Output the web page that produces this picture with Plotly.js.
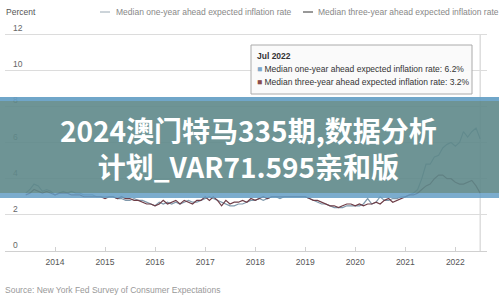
<!DOCTYPE html>
<html>
<head>
<meta charset="utf-8">
<script src="https://cdn.plot.ly/plotly-3.0.1.min.js"></script>
<style>
html,body{margin:0;padding:0;background:#fff;}
#chart{width:499px;height:296px;}
</style>
</head>
<body>
<div id="chart"></div>
<script>
// Monthly data, Jun 2013 .. Jul 2022
const startYear = 2013, startMonth = 6;
const oneYear = [
  3.2,3.4,3.7,3.6,3.3,3.4,3.3,                      // 2013 Jun-Dec
  3.1,3.2,3.3,3.2,3.3,3.2,3.2,3.1,3.1,3.1,3.0,3.0,  // 2014
  3.0,3.0,3.0,2.9,2.9,2.8,2.8,2.9,2.8,2.8,2.7,2.6,  // 2015
  2.5,2.7,2.6,2.7,2.6,2.7,2.6,2.7,2.8,2.7,2.7,2.8,  // 2016
  2.9,3.0,2.9,2.8,2.7,2.6,2.5,2.5,2.6,2.6,2.7,2.8,  // 2017
  2.8,2.9,2.8,2.9,3.0,3.0,2.9,3.0,3.0,3.0,3.0,3.0,  // 2018
  3.0,2.9,2.8,2.7,2.6,2.6,2.5,2.4,2.4,2.4,2.5,2.5,  // 2019
  2.5,2.5,2.6,2.9,2.6,2.7,3.0,2.8,2.8,2.9,2.9,3.0,  // 2020
  3.0,3.1,3.2,3.4,4.0,4.8,4.8,5.2,5.3,5.7,5.9,6.0,  // 2021
  5.8,6.0,6.6,6.3,6.6,6.8,6.2                       // 2022 Jan-Jul
];
const threeYear = [
  3.1,3.2,3.4,3.3,3.2,3.3,3.2,
  3.1,3.2,3.2,3.2,3.1,3.1,3.1,3.0,3.0,3.0,3.0,3.0,
  2.9,3.0,3.0,2.9,3.0,2.9,2.9,2.8,2.8,2.7,2.6,2.6,
  2.5,2.6,2.8,2.6,2.7,2.8,2.6,2.8,2.7,2.6,2.8,2.8,
  3.0,2.8,3.0,2.8,2.5,2.8,2.6,2.7,2.7,2.8,2.7,2.9,
  2.8,2.9,3.0,2.9,3.0,3.0,3.0,3.0,3.0,3.0,3.0,3.0,
  3.0,2.9,2.8,2.8,2.7,2.6,2.5,2.5,2.4,2.5,2.6,2.6,
  2.5,2.6,2.5,2.6,2.6,2.7,2.6,2.8,2.9,2.7,2.8,2.9,
  3.0,3.1,3.1,3.2,3.4,3.6,3.7,4.0,4.2,4.2,4.0,4.0,
  3.8,3.7,3.7,3.8,3.9,3.6,3.2
];
const seriesNames = ["Median one-year ahead expected inflation rate", "Median three-year ahead expected inflation rate"];
const yTicks = [0, 2, 4, 6, 8, 10, 12];
const tooltipLabel = "Jul 2022";
const overlayLine1 = "2024澳门特马335期,数据分析";
const overlayLine2 = "计划_VAR71.595亲和版";
const sourceText = "Source: New York Fed Survey of Consumer Expectations";

const dates = oneYear.map((_, i) => {
  const m0 = startMonth - 1 + i;
  const y = startYear + Math.floor(m0 / 12);
  const m = (m0 % 12) + 1;
  return y + "-" + String(m).padStart(2, "0") + "-01";
});
const lastDate = dates[dates.length - 1];

const FONT = "Liberation Sans, Arial, sans-serif";
const c1 = "#7f98ab", c2 = "#6e3d47";

const traces = [
  {x: dates, y: oneYear, type: "scatter", mode: "lines", name: seriesNames[0],
   line: {color: c1, width: 1.2}, hoverinfo: "skip"},
  {x: dates, y: threeYear, type: "scatter", mode: "lines", name: seriesNames[1],
   line: {color: c2, width: 1.2}, hoverinfo: "skip"}
];

// paper helpers (plot area: x 5..487 px, y 18..251 px; 18.08 px per unit)
const PL = 5, PR = 487, PT = 18, PB = 251;
const yTop = (PB - PT) / 18.08;
const px = v => (v - PL) / (PR - PL);
const py = v => (PB - v) / (PB - PT);

const shapes = [
  // crosshair at latest month
  {type: "line", xref: "x", yref: "y", x0: lastDate, x1: lastDate, y0: 0, y1: 12,
   line: {color: "#cccccc", width: 1}, layer: "below"},
  // legend line samples
  {type: "line", xref: "paper", yref: "paper", x0: px(100), x1: px(110), y0: py(12), y1: py(12),
   line: {color: "#9aa9b4", width: 1}},
  {type: "line", xref: "paper", yref: "paper", x0: px(303), x1: px(313), y0: py(12), y1: py(12),
   line: {color: "#333333", width: 1}},
  // tooltip box
  {type: "rect", xref: "paper", yref: "paper", x0: px(251), x1: px(472), y0: py(94), y1: py(45),
   fillcolor: "rgba(250,250,250,0.92)", line: {color: "#aaaaaa", width: 1}, layer: "above"},
  // overlay band
  {type: "rect", xref: "paper", yref: "paper", x0: px(0), x1: px(499), y0: py(101), y1: py(97),
   fillcolor: "rgba(100,158,196,0.92)", line: {width: 0}, layer: "above"},
  {type: "rect", xref: "paper", yref: "paper", x0: px(0), x1: px(499), y0: py(193), y1: py(101),
   fillcolor: "rgba(94,136,138,0.9)", line: {width: 0}, layer: "above"},
  {type: "rect", xref: "paper", yref: "paper", x0: px(0), x1: px(499), y0: py(198), y1: py(193),
   fillcolor: "rgba(100,158,196,0.85)", line: {width: 0}, layer: "above"}
];

const small = {family: FONT, size: 8.5, color: "#888888"};
const tipFont = {family: FONT, size: 8.5, color: "#333333"};
const annotations = [
  {text: "Percent", xref: "paper", yref: "paper", x: px(4), y: py(12), xanchor: "left", yanchor: "middle",
   showarrow: false, font: {family: FONT, size: 8.5, color: "#555555"}},
  {text: seriesNames[0], xref: "paper", yref: "paper", x: px(114), y: py(12), xanchor: "left", yanchor: "middle",
   showarrow: false, font: small},
  {text: seriesNames[1], xref: "paper", yref: "paper", x: px(316), y: py(12), xanchor: "left", yanchor: "middle",
   showarrow: false, font: small},
  {text: "<b>" + tooltipLabel + "</b>", xref: "paper", yref: "paper", x: px(255), y: py(56), xanchor: "left", yanchor: "middle",
   showarrow: false, font: tipFont},
  {text: "<span style='color:#7fa7c9'>■</span> " + seriesNames[0] + ": " + oneYear[oneYear.length-1].toFixed(1) + "%",
   xref: "paper", yref: "paper", x: px(255), y: py(69), xanchor: "left", yanchor: "middle",
   showarrow: false, font: tipFont},
  {text: "<span style='color:#8b4c4c'>■</span> " + seriesNames[1] + ": " + threeYear[threeYear.length-1].toFixed(1) + "%",
   xref: "paper", yref: "paper", x: px(255), y: py(82), xanchor: "left", yanchor: "middle",
   showarrow: false, font: tipFont},
  {text: sourceText, xref: "paper", yref: "paper", x: px(3), y: py(290), xanchor: "left", yanchor: "middle",
   showarrow: false, font: {family: FONT, size: 8.5, color: "#999999"}},
  {text: "<b>" + overlayLine1 + "</b><br><b>" + overlayLine2 + "</b>", xref: "paper", yref: "paper",
   x: px(248), y: py(148), xanchor: "center", yanchor: "middle", align: "center",
   showarrow: false, font: {family: "Noto Sans CJK SC", size: 28, color: "#ffffff"}}
];

const layout = {
  width: 499, height: 296,
  margin: {l: PL, r: 499 - PR, t: PT, b: 296 - PB, pad: 0},
  paper_bgcolor: "#ffffff", plot_bgcolor: "#ffffff",
  showlegend: false,
  font: {family: FONT, size: 8.5, color: "#555555"},
  xaxis: {
    type: "date", range: ["2013-01-01", "2022-08-20"],
    tick0: "2014-01-01", dtick: "M12", tickformat: "%Y",
    showgrid: false, zeroline: false,
    showline: true, linecolor: "#d0d0d0", linewidth: 1,
    ticks: "inside", ticklen: 4, tickcolor: "#d0d0d0",
    ticklabelstandoff: 3,
    tickfont: {family: FONT, size: 8.5, color: "#555555"}
  },
  yaxis: {
    range: [0, yTop], tickvals: yTicks, ticktext: yTicks.map(String),
    showgrid: true, gridcolor: "#dcdcdc", gridwidth: 1,
    zeroline: false, showline: false, ticks: "",
    ticklabelposition: "inside top", ticklabelstandoff: 5,
    tickfont: {family: FONT, size: 8.5, color: "#666666"}
  },
  shapes: shapes,
  annotations: annotations
};

Plotly.newPlot("chart", traces, layout, {displayModeBar: false, staticPlot: true});
</script>
</body>
</html>
